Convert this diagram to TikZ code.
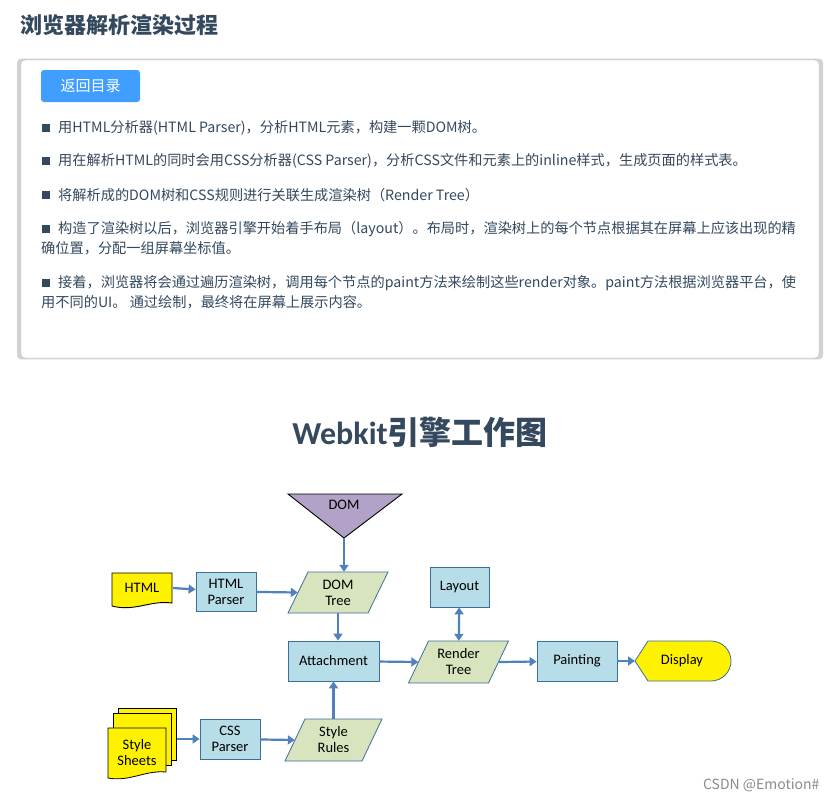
\documentclass[tikz,border=0pt]{standalone}
\usepackage{fontspec}
\setmainfont{Carlito}
\newfontfamily\cjk{Noto Sans CJK SC}
\usetikzlibrary{shadows,arrows.meta}
\definecolor{ink}{HTML}{34495E}
\definecolor{btn}{HTML}{409EFF}
\definecolor{boxblue}{HTML}{B7DDE8}
\definecolor{boxline}{HTML}{3C6E9C}
\definecolor{paragreen}{HTML}{D7E4BD}
\definecolor{domviolet}{HTML}{B3A2C7}
\definecolor{flow}{HTML}{4F81BD}
\tikzset{
  txt/.style={anchor=west, inner sep=0pt, text=ink, font=\cjk\fontsize{14.2}{19}\selectfont, align=left},
  bullet/.style={fill=ink, minimum size=8pt, inner sep=0pt},
  stepbox/.style={draw=boxline, fill=boxblue, line width=0.8pt, font=\fontsize{14.5}{16}\selectfont, align=center, inner sep=0pt},
  paralabel/.style={font=\fontsize{14.5}{16}\selectfont, align=center, inner sep=0pt},
  para/.style={draw=boxline, fill=paragreen, line width=0.8pt},
  flowarrow/.style={draw=flow, line width=2.2pt, -{Triangle[length=7pt,width=9pt]}},
}
\newcommand{\paradraw}[5]{% center x, center y, half width, half height, slant
  \draw[para] (#1-#3-#5,#2+#4) -- (#1+#3-#5,#2+#4) -- (#1+#3+#5,#2-#4) -- (#1-#3+#5,#2-#4) -- cycle;}
\begin{document}
\begin{tikzpicture}[x=1pt,y=-1pt]
\useasboundingbox[fill=white] (0,0) rectangle (838,801);

% page head and notes box
\node[anchor=west, inner sep=0pt, text=ink, font=\cjk\bfseries\fontsize{22}{24}\selectfont] (title) at (20,25) {浏览器解析渲染过程};
\draw[draw=black!25, fill=white, rounded corners=4pt, drop shadow={shadow xshift=0pt, shadow yshift=0pt, opacity=.35, shadow scale=1.01}] (21,60) rectangle (819,358);
\node[fill=btn, rounded corners=3pt, text=white, minimum width=99pt, minimum height=32pt, font=\cjk\fontsize{15}{18}\selectfont] (back) at (90.5,86) {返回目录};
\foreach \y in {128,161,195,229,283} \node[bullet] at (46,\y) {};
\node[txt] (n1) at (58,128) {用HTML分析器(HTML Parser)，分析HTML元素，构建一颗DOM树。};
\node[txt] (n2) at (58,161) {用在解析HTML的同时会用CSS分析器(CSS Parser)，分析CSS文件和元素上的inline样式，生成页面的样式表。};
\node[txt] (n3) at (58,195) {将解析成的DOM树和CSS规则进行关联生成渲染树（Render Tree）};
\node[txt] (n4) at (58,229) {构造了渲染树以后，浏览器引擎开始着手布局（layout）。布局时，渲染树上的每个节点根据其在屏幕上应该出现的精};
\node[txt] (n4b) at (41,248) {确位置，分配一组屏幕坐标值。};
\node[txt] (n5) at (58,283) {接着，浏览器将会通过遍历渲染树，调用每个节点的paint方法来绘制这些render对象。paint方法根据浏览器平台，使};
\node[txt] (n5b) at (41,302) {用不同的UI。 通过绘制，最终将在屏幕上展示内容。};

\node[text=ink, font=\bfseries\fontsize{32}{36}\selectfont] (wtitle) at (420,432) {Webkit\cjk 引擎工作图};

% flow chart
\draw[fill=domviolet, line width=0.9pt] (288,494) -- (402,494) -- (344,538) -- cycle;
\node[paralabel] (dom) at (344,505) {DOM};
\coordinate (domtip) at (344,538);

\draw[fill=yellow, line width=0.9pt] (112,573) -- (172,573) -- (172,603) .. controls (150,600) and (135,612) .. (112,606) -- cycle;
\node[paralabel] (html) at (142,588) {HTML};

\node[stepbox, minimum width=60pt, minimum height=39pt] (hparser) at (226,591.5) {HTML\\Parser};
\paradraw{338}{592.5}{40}{20.5}{10}
\node[paralabel, minimum width=80pt, minimum height=41pt] (domtree) at (338,592.5) {DOM\\Tree};
\node[stepbox, minimum width=59pt, minimum height=40pt] (layout) at (459.5,587) {Layout};
\node[stepbox, minimum width=91pt, minimum height=40pt] (attach) at (333.5,661) {Attachment};
\paradraw{458.5}{662}{40}{21}{10}
\node[paralabel, minimum width=80pt, minimum height=42pt] (render) at (458.5,662) {Render\\Tree};
\node[stepbox, minimum width=80pt, minimum height=40pt] (paint) at (577,661) {Painting};
\draw[fill=yellow, draw=boxline, line width=0.8pt] (648,641) -- (711,641) arc (-90:90:20) -- (648,681) -- (635,661) -- cycle;
\node[paralabel] (display) at (682,661) {Display};

\foreach \d in {10,5}
  \draw[fill=yellow, line width=0.8pt] (108+\d,718-\d) rectangle (166+\d,770-\d);
\draw[fill=yellow, line width=0.8pt] (108,728) -- (166,728) -- (166,772) .. controls (145,770) and (130,782) .. (108,778) -- cycle;
\node[paralabel] (sheets) at (137,753) {Style\\Sheets};
\node[stepbox, minimum width=60pt, minimum height=40pt] (cparser) at (230,739) {CSS\\Parser};
\paradraw{333.5}{740}{38.5}{21}{10}
\node[paralabel, minimum width=77pt, minimum height=42pt] (rules) at (333.5,740) {Style\\Rules};

\draw[flowarrow] (domtip) -- (domtip |- domtree.north);
\draw[flowarrow] (173,588) -- (hparser);
\draw[flowarrow] (hparser) -- (domtree.west);
\draw[flowarrow] (domtree) -- (domtree |- attach.north);
\draw[flowarrow] (rules) -- (attach);
\draw[flowarrow] (cparser) -- (rules.west);
\draw[flowarrow] (177,739) -- (cparser);
\draw[flowarrow] (attach) -- (render.west);
\draw[flowarrow, {Triangle[length=7pt,width=9pt]}-{Triangle[length=7pt,width=9pt]}] (layout) -- (render);
\draw[flowarrow] (render.east) -- (paint);
\draw[flowarrow] (paint) -- (635,661);

\node[anchor=east, text=black!45, font=\cjk\fontsize{14}{16}\selectfont] (mark) at (823,785) {CSDN @Emotion\#};
\end{tikzpicture}
\end{document}
